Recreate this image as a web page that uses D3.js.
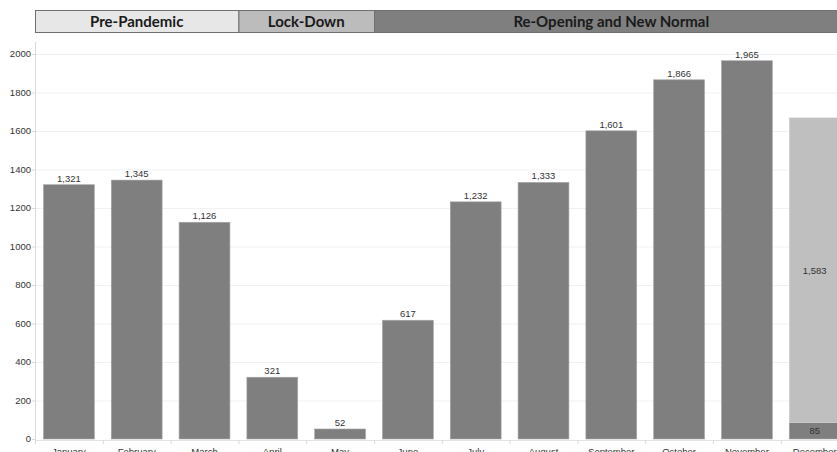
<!DOCTYPE html>
<html>
<head>
<meta charset="utf-8">
<script src="https://cdn.jsdelivr.net/npm/d3@7/dist/d3.min.js"></script>
<style>
  html, body { margin: 0; padding: 0; background: #fff; }
  svg { display: block; }
</style>
</head>
<body>
<svg id="chart" width="837" height="452"></svg>
<script>
// Monthly counts
const months = ["January","February","March","April","May","June","July","August","September","October","November","December"];
const values = [1321, 1345, 1126, 321, 52, 617, 1232, 1333, 1601, 1866, 1965, 85];
// December carries an additional stacked segment
const extraMonth = "December";
const extraValue = 1583;
const yTicks = [0, 200, 400, 600, 800, 1000, 1200, 1400, 1600, 1800, 2000];
// Period headers: label, first month, last month
const phases = ["Pre-Pandemic", "Lock-Down", "Re-Opening and New Normal"];
const phaseStart = ["January", "April", "June"];
const phaseEnd = ["March", "May", "December"];
const phaseFill = ["#e7e7e7", "#bcbcbc", "#7f7f7f"];

const svg = d3.select("#chart");
const left = 35, bandRight = 848.6;
const smallFont = "Liberation Sans, Arial, sans-serif";

const x = d3.scaleBand().domain(months).range([left, bandRight])
  .paddingInner(0.25).paddingOuter(0.125);
const y = d3.scaleLinear().domain([0, 2000]).range([439, 54]);

// gridlines
svg.append("g").selectAll("line").data(yTicks.slice(1)).join("line")
  .attr("x1", left).attr("x2", 837)
  .attr("y1", d => y(d) + 0.5).attr("y2", d => y(d) + 0.5)
  .attr("stroke", "#f1f1f1").attr("stroke-width", 1);

// y axis
svg.append("line").attr("x1", left + 0.5).attr("x2", left + 0.5)
  .attr("y1", 42).attr("y2", 444).attr("stroke", "#d9d9d9");
const yG = svg.append("g").attr("font-family", smallFont)
  .attr("font-size", 9.5).attr("fill", "#333");
yG.selectAll("line").data(yTicks).join("line")
  .attr("x1", left - 3).attr("x2", left)
  .attr("y1", d => y(d) + 0.5).attr("y2", d => y(d) + 0.5)
  .attr("stroke", "#d9d9d9");
yG.selectAll("text").data(yTicks).join("text")
  .attr("x", left - 4).attr("y", d => y(d)).attr("dy", "0.35em")
  .attr("text-anchor", "end").text(d => d);

// x axis baseline & ticks at band boundaries
svg.append("line").attr("x1", left).attr("x2", 837)
  .attr("y1", 440.5).attr("y2", 440.5).attr("stroke", "#e3e3e3");
svg.append("g").selectAll("line").data(months).join("line")
  .attr("x1", d => x(d) - x.step() * 0.125 + 0.5)
  .attr("x2", d => x(d) - x.step() * 0.125 + 0.5)
  .attr("y1", 440).attr("y2", 444).attr("stroke", "#d9d9d9");

// bars
svg.append("g").selectAll("rect").data(months).join("rect")
  .attr("x", d => x(d)).attr("width", x.bandwidth())
  .attr("y", (d, i) => y(values[i])).attr("height", (d, i) => y(0) - y(values[i]))
  .attr("fill", "#7f7f7f").attr("stroke", "#a6a6a6").attr("stroke-width", 0.6);

// stacked December segment
svg.append("rect")
  .attr("x", x(extraMonth)).attr("width", x.bandwidth())
  .attr("y", y(values[11] + extraValue)).attr("height", y(values[11]) - y(values[11] + extraValue))
  .attr("fill", "#bfbfbf").attr("stroke", "#cfcfcf").attr("stroke-width", 0.6);

const fmt = d3.format(",");
const lbl = svg.append("g").attr("font-family", smallFont)
  .attr("font-size", 9.5).attr("fill", "#333").attr("text-anchor", "middle");
lbl.selectAll("text").data(months.slice(0, 11)).join("text")
  .attr("x", d => x(d) + x.bandwidth() / 2)
  .attr("y", (d, i) => y(values[i]) - 3)
  .text((d, i) => fmt(values[i]));
lbl.append("text").attr("x", x(extraMonth) + x.bandwidth() / 2)
  .attr("y", (y(0) + y(values[11])) / 2).attr("dy", "0.35em").text(fmt(values[11]));
lbl.append("text").attr("x", x(extraMonth) + x.bandwidth() / 2)
  .attr("y", (y(values[11]) + y(values[11] + extraValue)) / 2).attr("dy", "0.35em")
  .text(fmt(extraValue));

// month labels
svg.append("g").attr("font-family", smallFont)
  .attr("font-size", 9.5).attr("fill", "#333").attr("text-anchor", "middle")
  .selectAll("text").data(months).join("text")
  .attr("x", d => x(d) + x.bandwidth() / 2).attr("y", 455).text(d => d);

// phase header
const edge = d => x(d) - x.step() * 0.125;
const ph = svg.append("g");
phases.forEach((p, i) => {
  const x0 = edge(phaseStart[i]);
  const x1 = edge(phaseEnd[i]) + x.step();
  ph.append("rect").attr("x", x0 + 0.5).attr("y", 10.5)
    .attr("width", x1 - x0).attr("height", 22)
    .attr("fill", phaseFill[i]).attr("stroke", "#6f6f6f").attr("stroke-width", 1);
  ph.append("text").attr("x", (x0 + x1) / 2).attr("y", 22).attr("dy", "0.35em")
    .attr("text-anchor", "middle").attr("font-family", "Lato, 'Open Sans', sans-serif")
    .attr("font-weight", "bold").attr("font-size", 15).attr("fill", "#1a1a1a").text(p);
});
</script>
</body>
</html>
